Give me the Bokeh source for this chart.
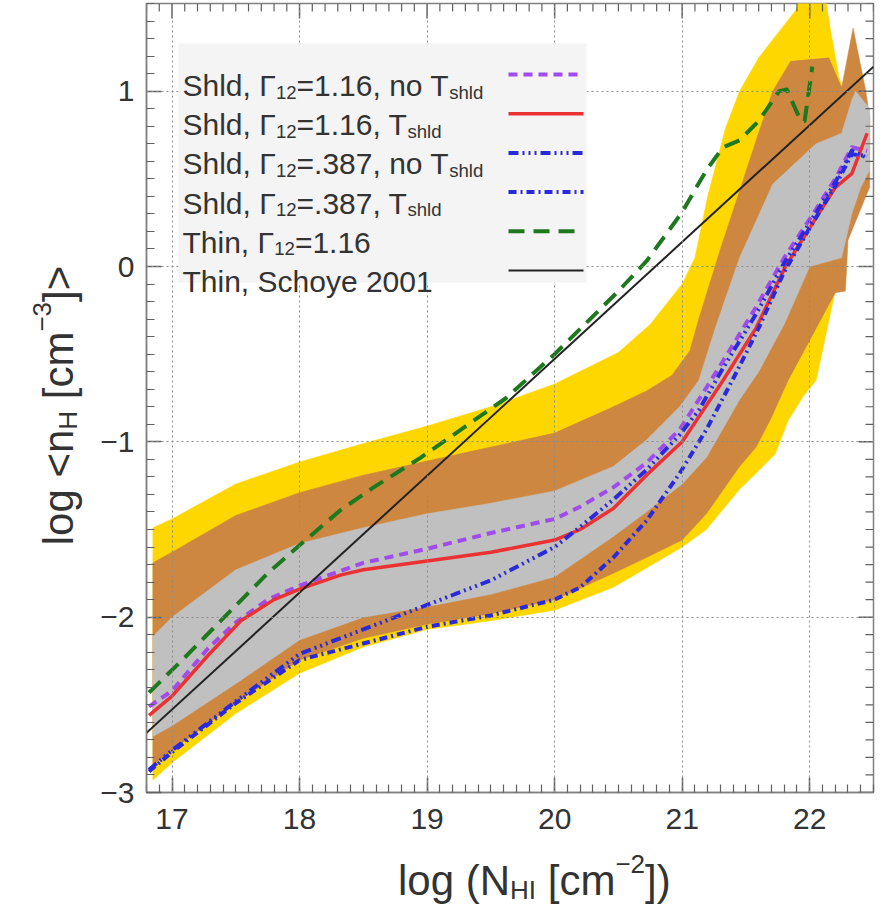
import math
import numpy as np
from bokeh.plotting import figure
from bokeh.layouts import row, column
from bokeh.models import (Range1d, FixedTicker, Label, BoxAnnotation, Arrow, CustomJSTickFormatter)
from bokeh.embed import file_html
from bokeh.resources import INLINE

# ---------------- data ----------------
yellow_top_x = [16.85, 17.0, 17.5, 18.0, 18.5, 19.0, 19.5, 20.0, 20.5, 20.75, 21.0, 21.1, 21.2,
                21.34, 21.45, 21.6, 21.76, 21.89, 21.93, 22.12, 22.16, 22.23, 22.27]
yellow_top_y = [-1.49, -1.44, -1.24, -1.115, -1.01, -0.91, -0.80, -0.67, -0.49, -0.33, -0.10, 0.05, 0.40,
                0.79, 1.00, 1.19, 1.34, 1.46, 1.55, 1.55, 1.36, 1.08, 1.00]
yellow_bot_x = [16.85, 17.0, 17.5, 18.0, 18.5, 19.0, 19.5, 20.0, 20.46, 20.72, 21.0, 21.19, 21.45,
                21.55, 21.73, 21.83, 21.95, 22.05, 22.2, 22.27]
yellow_bot_y = [-2.93, -2.83, -2.55, -2.32, -2.17, -2.07, -2.02, -1.96, -1.83, -1.72, -1.60, -1.50, -1.27,
                -1.20, -1.07, -0.88, -0.74, -0.65, -0.14, -0.14]

orange_top_x = [16.85, 17.0, 17.5, 18.0, 18.5, 19.0, 19.5, 20.0, 20.46, 20.72, 20.92, 21.06, 21.13,
                21.3, 21.45, 21.58, 21.71, 21.85, 22.15, 22.25, 22.34, 22.44, 22.47]
orange_top_y = [-1.69, -1.63, -1.42, -1.29, -1.19, -1.11, -1.03, -0.95, -0.80, -0.71, -0.62, -0.48, -0.30,
                0.10, 0.43, 0.72, 1.00, 1.17, 1.19, 1.02, 1.36, 1.00, 0.85]
orange_bot_x = [16.85, 17.0, 17.5, 18.0, 18.5, 19.0, 19.5, 20.0, 20.46, 20.72, 21.0, 21.19, 21.45,
                21.58, 21.7, 21.83, 22.0, 22.2, 22.28, 22.3, 22.44, 22.47]
orange_bot_y = [-2.84, -2.76, -2.49, -2.245, -2.12, -2.04, -1.98, -1.90, -1.75, -1.66, -1.56, -1.41, -1.14,
                -1.03, -0.86, -0.65, -0.42, -0.15, -0.14, 0.15, 0.40, 0.45]

gray_top_x = [16.85, 17.0, 17.5, 18.0, 18.5, 19.0, 19.5, 20.0, 20.46, 20.72, 20.98, 21.13, 21.26,
              21.45, 21.71, 22.05, 22.25, 22.33, 22.36, 22.47]
gray_top_y = [-2.11, -2.0, -1.73, -1.58, -1.49, -1.41, -1.35, -1.28, -1.14, -0.99, -0.80, -0.65, -0.35,
              0.05, 0.47, 0.70, 0.76, 0.95, 1.00, 0.90]
gray_bot_x = [16.85, 17.0, 17.5, 18.0, 18.5, 19.0, 19.5, 20.0, 20.46, 20.72, 21.0, 21.19, 21.45,
              21.6, 21.8, 22.0, 22.25, 22.33, 22.4, 22.47]
gray_bot_y = [-2.68, -2.62, -2.38, -2.13, -2.0, -1.94, -1.87, -1.77, -1.54, -1.40, -1.24, -1.09, -0.76,
              -0.60, -0.33, 0.0, 0.05, 0.30, 0.45, 0.55]

shld_116_noT_x = [16.82, 17.0, 17.28, 17.5, 17.75, 18.0, 18.5, 19.0, 19.5, 20.0, 20.2, 20.46, 20.72,
                  20.98, 21.13, 21.32, 21.58, 21.8, 22.0, 22.2, 22.33, 22.45]
shld_116_noT_y = [-2.51, -2.42, -2.18, -2.03, -1.90, -1.82, -1.69, -1.61, -1.52, -1.44, -1.37, -1.26, -1.12,
                  -0.93, -0.76, -0.54, -0.23, 0.05, 0.27, 0.50, 0.68, 0.66]

shld_116_T_x = [16.82, 17.0, 17.28, 17.54, 17.8, 18.0, 18.32, 18.5, 19.0, 19.5, 20.0, 20.2, 20.46,
                20.72, 21.0, 21.32, 21.58, 21.81, 22.0, 22.2, 22.33, 22.45]
shld_116_T_y = [-2.56, -2.45, -2.22, -2.02, -1.90, -1.84, -1.76, -1.73, -1.68, -1.63, -1.56, -1.50, -1.38,
                -1.19, -1.0, -0.65, -0.35, 0.0, 0.22, 0.45, 0.53, 0.76]

shld_387_noT_x = [16.82, 17.0, 17.5, 18.0, 18.5, 19.0, 19.5, 20.0, 20.2, 20.46, 20.72, 20.98, 21.13,
                  21.32, 21.58, 21.8, 22.0, 22.2, 22.33, 22.45]
shld_387_noT_y = [-2.87, -2.76, -2.48, -2.21, -2.07, -1.93, -1.79, -1.60, -1.485, -1.33, -1.16, -0.96, -0.82,
                  -0.58, -0.27, 0.02, 0.25, 0.48, 0.66, 0.62]

shld_387_T_x = [16.82, 17.0, 17.5, 18.0, 18.5, 19.0, 19.5, 20.0, 20.2, 20.46, 20.72, 20.98, 21.19,
                21.4, 21.6, 21.8, 22.0, 22.2, 22.33, 22.45]
shld_387_T_y = [-2.88, -2.77, -2.49, -2.245, -2.15, -2.055, -1.99, -1.90, -1.83, -1.66, -1.45, -1.18, -0.93,
                -0.64, -0.35, -0.03, 0.22, 0.46, 0.64, 0.63]

thin_116_x = [16.82, 17.1, 17.41, 17.75, 18.0, 18.32, 18.58, 18.95, 19.62, 20.0, 20.5, 20.72, 21.0,
              21.11, 21.2, 21.32, 21.45, 21.6, 21.76, 21.82, 21.93, 21.96, 22.02]
thin_116_y = [-2.43, -2.23, -2.0, -1.75, -1.59, -1.39, -1.26, -1.09, -0.75, -0.50, -0.14, 0.03, 0.31,
              0.45, 0.56, 0.68, 0.72, 0.83, 1.0, 1.01, 0.83, 0.83, 1.14]

schaye_x = [16.8, 22.5]
schaye_y = [-2.66, 1.14]

x_major_ticks = [17, 18, 19, 20, 21, 22]
y_major_ticks = [-3, -2, -1, 0, 1]

# ---------------- layout constants ----------------
FONT = "Liberation Sans"
TXT = "#333333"
AXC = "#808080"
TICKC = "#606060"
X0, X1, Y0, Y1 = 16.8, 22.5, -3.0, 1.5
PAGE_W, PAGE_H = 880, 905
YLAB_W = 90            # width of the strip holding the y title
MAIN_H = 843           # height of the main plot (x title strip below it)
FL, FR, FT, FB = 146, 873, 3, 792   # frame edges on the page
FRAME_W, FRAME_H = FR - FL, FB - FT


def px2x(px):
    return X0 + (px - FL) * (X1 - X0) / FRAME_W


def py2y(py):
    return Y1 - (py - FT) * (Y1 - Y0) / FRAME_H


p = figure(width=PAGE_W - YLAB_W, height=MAIN_H, x_range=Range1d(X0, X1), y_range=Range1d(Y0, Y1),
           output_backend="svg", toolbar_location=None,
           min_border_left=FL - YLAB_W, min_border_right=PAGE_W - FR,
           min_border_top=FT, min_border_bottom=MAIN_H - FB)
p.background_fill_color = "white"
p.border_fill_color = "white"
p.outline_line_color = AXC
p.outline_line_width = 1.5

x_minor = [round(v, 1) for v in np.arange(16.8, 22.51, 0.1)]
y_minor = [round(v, 1) for v in np.arange(-3.0, 1.51, 0.1)]
xt = FixedTicker(ticks=x_major_ticks, minor_ticks=x_minor)
yt = FixedTicker(ticks=y_major_ticks, minor_ticks=y_minor)

xax = p.below[0]
yax = p.left[0]
xax.ticker = xt
yax.ticker = yt
yax.formatter = CustomJSTickFormatter(
    code="return (tick < 0 ? '\\u2212' : '') + Math.abs(tick).toFixed(0);")

for ax in [xax, yax]:
    ax.axis_line_color = AXC
    ax.axis_line_width = 1.5
    ax.major_tick_in = 15
    ax.major_tick_out = 0
    ax.minor_tick_in = 8
    ax.minor_tick_out = 0
    ax.major_tick_line_color = TICKC
    ax.major_tick_line_width = 1.5
    ax.minor_tick_line_color = TICKC
    ax.minor_tick_line_width = 1.2
    ax.major_label_text_font = FONT
    ax.major_label_text_color = TXT
    ax.major_label_text_font_size = "30px"
xax.major_label_standoff = 16
yax.major_label_standoff = 12

for g in [p.xgrid[0], p.ygrid[0]]:
    g.grid_line_color = "#8c8c8c"
    g.grid_line_dash = "2 3"
    g.grid_line_width = 1
    g.level = "guide"
p.xgrid[0].ticker = xt
p.ygrid[0].ticker = yt

# ---------------- bands ----------------
def band(xt_, yt_, xb_, yb_, color):
    p.patch(list(xt_) + list(xb_)[::-1], list(yt_) + list(yb_)[::-1],
            fill_color=color, line_color=color, line_width=0.5)


band(yellow_top_x, yellow_top_y, yellow_bot_x, yellow_bot_y, "#FFD700")
band(orange_top_x, orange_top_y, orange_bot_x, orange_bot_y, "#CD8741")
band(gray_top_x, gray_top_y, gray_bot_x, gray_bot_y, "#C0C0C0")

# ---------------- lines ----------------
styles = [
    (shld_116_noT_x, shld_116_noT_y, "#A04BEB", 4, "9 6"),
    (shld_116_T_x, shld_116_T_y, "#EB3232", 3.5, "solid"),
    (shld_387_noT_x, shld_387_noT_y, "#2A2ADC", 4, "10 4 2 4 2 4 2 4"),
    (shld_387_T_x, shld_387_T_y, "#2A2ADC", 4, "8 4 2 4"),
    (thin_116_x, thin_116_y, "#1E781E", 4, "16 9"),
    (schaye_x, schaye_y, "#222222", 2, "solid"),
]
for xs, ys, c, w, d in styles:
    p.line(xs, ys, line_color=c, line_width=w, line_dash=d, line_join="round")

# ---------------- mirrored ticks on top and right edges ----------------
dx_px = (X1 - X0) / FRAME_W
dy_px = (Y1 - Y0) / FRAME_H
x_minor_only = [v for v in x_minor if v not in x_major_ticks]
y_minor_only = [v for v in y_minor if v not in y_major_ticks]
p.segment(x0=x_major_ticks, x1=x_major_ticks, y0=[Y1] * len(x_major_ticks),
          y1=[Y1 - 15 * dy_px] * len(x_major_ticks), line_color=TICKC, line_width=1.5)
p.segment(x0=x_minor_only, x1=x_minor_only, y0=[Y1] * len(x_minor_only),
          y1=[Y1 - 8 * dy_px] * len(x_minor_only), line_color=TICKC, line_width=1.2)
p.segment(x0=[X1] * len(y_major_ticks), x1=[X1 - 15 * dx_px] * len(y_major_ticks),
          y0=y_major_ticks, y1=y_major_ticks, line_color=TICKC, line_width=1.5)
p.segment(x0=[X1] * len(y_minor_only), x1=[X1 - 8 * dx_px] * len(y_minor_only),
          y0=y_minor_only, y1=y_minor_only, line_color=TICKC, line_width=1.2)

# ---------------- rich text helper ----------------
CW = {' ': 278, ',': 278, '.': 278, '=': 584, '<': 584, '>': 584, '[': 278, ']': 278,
      '(': 333, ')': 333, '\u2212': 584, 'S': 667, 'T': 611, 'N': 722, 'H': 722, 'I': 278,
      '\u0393': 556, 'a': 556, 'c': 500, 'd': 556, 'e': 556, 'g': 556, 'h': 556, 'i': 222,
      'l': 222, 'm': 833, 'n': 556, 'o': 556, 's': 500, 'y': 500}


def tw(s, size):
    return sum(CW.get(ch, 556) for ch in s) * size / 1000.0


def rich(fig, pieces, x, y, dx, dy, size, angle=0.0, center=False, sub_scale=0.62):
    sizes = [size if k == "n" else size * sub_scale for _, k in pieces]
    widths = [tw(t, s) for (t, _), s in zip(pieces, sizes)]
    cur = -sum(widths) / 2 if center else 0.0
    for (t, k), s in zip(pieces, sizes):
        lead = len(t) - len(t.lstrip(' '))
        cur += tw(' ' * lead, s)          # svg collapses leading blanks: advance instead
        body = t.strip(' ')
        shift = 0.0 if k == "n" else (-0.22 * size if k == "sub" else 0.40 * size)
        if angle == 0:
            xo, yo = dx + cur, dy + shift
        else:
            xo, yo = dx - shift, dy + cur
        fig.add_layout(Label(x=x, y=y, x_offset=xo, y_offset=yo, text=body, angle=angle,
                             text_font=FONT, text_font_size=f"{s:.1f}px", text_color=TXT,
                             text_baseline="alphabetic", text_align="left"))
        cur += tw(t.lstrip(' '), s)


# ---------------- legend ----------------
p.add_layout(BoxAnnotation(left=px2x(178), right=px2x(586), top=py2y(43), bottom=py2y(282),
                           fill_color="#F4F4F4", fill_alpha=1.0, line_alpha=0))

legend_rows = [
    [("Shld, \u0393", "n"), ("12", "sub"), ("=1.16, no T", "n"), ("shld", "sub")],
    [("Shld, \u0393", "n"), ("12", "sub"), ("=1.16, T", "n"), ("shld", "sub")],
    [("Shld, \u0393", "n"), ("12", "sub"), ("=.387, no T", "n"), ("shld", "sub")],
    [("Shld, \u0393", "n"), ("12", "sub"), ("=.387, T", "n"), ("shld", "sub")],
    [("Thin, \u0393", "n"), ("12", "sub"), ("=1.16", "n")],
    [("Thin, Schoye 2001", "n")],
]
for i, (row_, (_, _, c, w, d)) in enumerate(zip(legend_rows, styles)):
    base = 85 + 39.2 * i
    rich(p, row_, X0, Y1, 182 - FL, -(base - FT), 30)
    ly = py2y(base - 11)
    p.add_layout(Arrow(x_start=px2x(508), y_start=ly, x_end=px2x(583), y_end=ly,
                       start=None, end=None, line_color=c, line_width=w, line_dash=d))


# ---------------- axis-title strips (page pixel coordinates) ----------------
def strip(width, height, xr, yr):
    f = figure(width=width, height=height, x_range=Range1d(*xr), y_range=Range1d(*yr),
               output_backend="svg", toolbar_location=None, x_axis_type=None, y_axis_type=None,
               min_border=0, min_border_left=0, min_border_right=0, min_border_top=0,
               min_border_bottom=0)
    f.outline_line_color = None
    f.background_fill_color = "white"
    f.border_fill_color = "white"
    f.grid.visible = False
    return f


ylab = strip(YLAB_W, PAGE_H, (0, YLAB_W), (PAGE_H, 0))
rich(ylab, [("log <n", "n"), ("H", "sub"), (" [cm", "n"), ("\u22123", "sup"), ("]>", "n")],
     58, 405, 0, 0, 42, angle=math.pi / 2, center=True)

xlab = strip(PAGE_W - YLAB_W, PAGE_H - MAIN_H, (YLAB_W, PAGE_W), (PAGE_H, MAIN_H))
rich(xlab, [("log (N", "n"), ("HI", "sub"), (" [cm", "n"), ("\u22122", "sup"), ("])", "n")],
     (FL + FR) / 2 + 2, 880, 0, 0, 42, center=True)

layout = row(ylab, column(p, xlab, spacing=0), spacing=0)

open("out.html", "w").write(file_html(layout, INLINE))
